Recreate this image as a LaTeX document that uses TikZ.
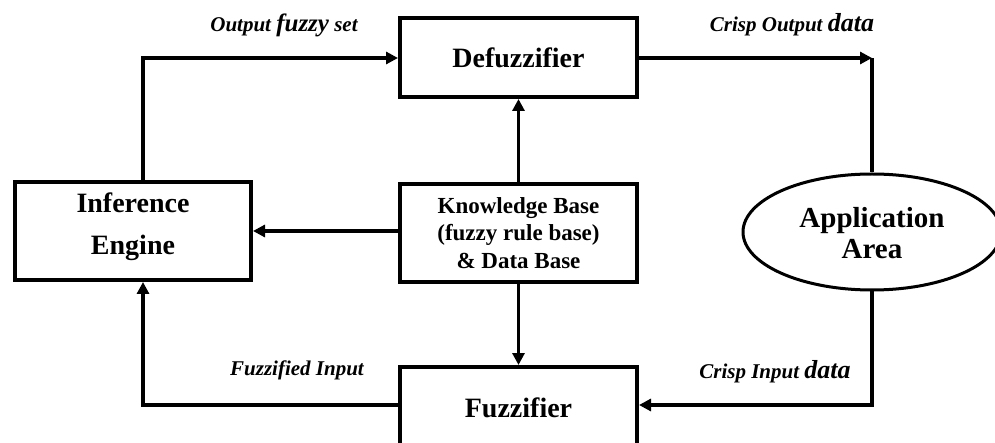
\documentclass[tikz,border=0pt]{standalone}
\usepackage{fontspec}
\setmainfont{Liberation Serif}
\usetikzlibrary{arrows.meta,shapes.geometric}
\begin{document}
\begin{tikzpicture}[x=1pt,y=-1pt,
  blockbox/.style={draw,line width=4pt,rectangle,inner sep=0pt,align=center,font=\bfseries\fontsize{28}{32}\selectfont},
  conn/.style={line width=3.5pt,-{Triangle[length=12pt,width=12pt]}},
  plainline/.style={line width=3.5pt},
  lbl/.style={font=\bfseries\itshape\fontsize{21}{24}\selectfont,inner sep=0pt}]
\clip (0,0) rectangle (995,443);
\useasboundingbox (0,0) rectangle (995,443);

\node[blockbox,minimum width=237pt,minimum height=79pt] (defuzz) at (518.5,57.5) {Defuzzifier};
\node[blockbox,minimum width=236pt,minimum height=98pt] (infer) at (133,231) {};
\node[font=\bfseries\fontsize{28}{42}\selectfont,align=center,inner sep=0pt] (infertext) at (133,227) {Inference\\Engine};
\node[blockbox,minimum width=237pt,minimum height=98pt,
      font=\bfseries\fontsize{23}{27.5}\selectfont] (kb) at (518.5,233)
      {Knowledge Base\\(fuzzy rule base)\\\& Data Base};
\node[blockbox,minimum width=237pt,minimum height=82pt] (fuzz) at (518.5,408) {Fuzzifier};
\node[draw,ellipse,line width=3pt,minimum width=258pt,minimum height=116pt,inner sep=0pt] (app) at (872,232) {};
\node[font=\bfseries\fontsize{29}{31}\selectfont,align=center,inner sep=0pt] (apptext) at (872,233) {Application\\Area};

\coordinate (outcorner) at (143,58);
\coordinate (crispout) at (872,58);
\coordinate (crispin) at (872,405);
\coordinate (fuzzcorner) at (143,405);

% inference -> defuzzifier
\draw[conn] (infer.north -| outcorner) -- (outcorner) -- (defuzz.west |- outcorner);
% defuzzifier -> application area
\draw[conn] (defuzz.east |- crispout) -- (crispout);
\draw[plainline] (app.north) -- (crispout);
% knowledge base links
\draw[conn] (kb.north) -- (defuzz.south);
\draw[conn] (kb.west |- infer.east) -- (infer.east);
\draw[conn] (kb.south) -- (fuzz.north);
% application area -> fuzzifier
\draw[conn] (app.south) -- (crispin) -- (fuzz.east |- crispin);
% fuzzifier -> inference
\draw[conn] (fuzz.west |- fuzzcorner) -- (fuzzcorner) -- (infer.south -| fuzzcorner);

\node[lbl] (l1) at (284,25) {Output {\fontsize{25}{26}\selectfont fuzzy} set};
\node[lbl] (l2) at (792,25) {Crisp Output {\fontsize{26}{26}\selectfont data}};
\node[lbl] (l3) at (297,370) {Fuzzified Input};
\node[lbl] (l4) at (775,372) {Crisp Input {\fontsize{26}{26}\selectfont data}};
\end{tikzpicture}
\end{document}
